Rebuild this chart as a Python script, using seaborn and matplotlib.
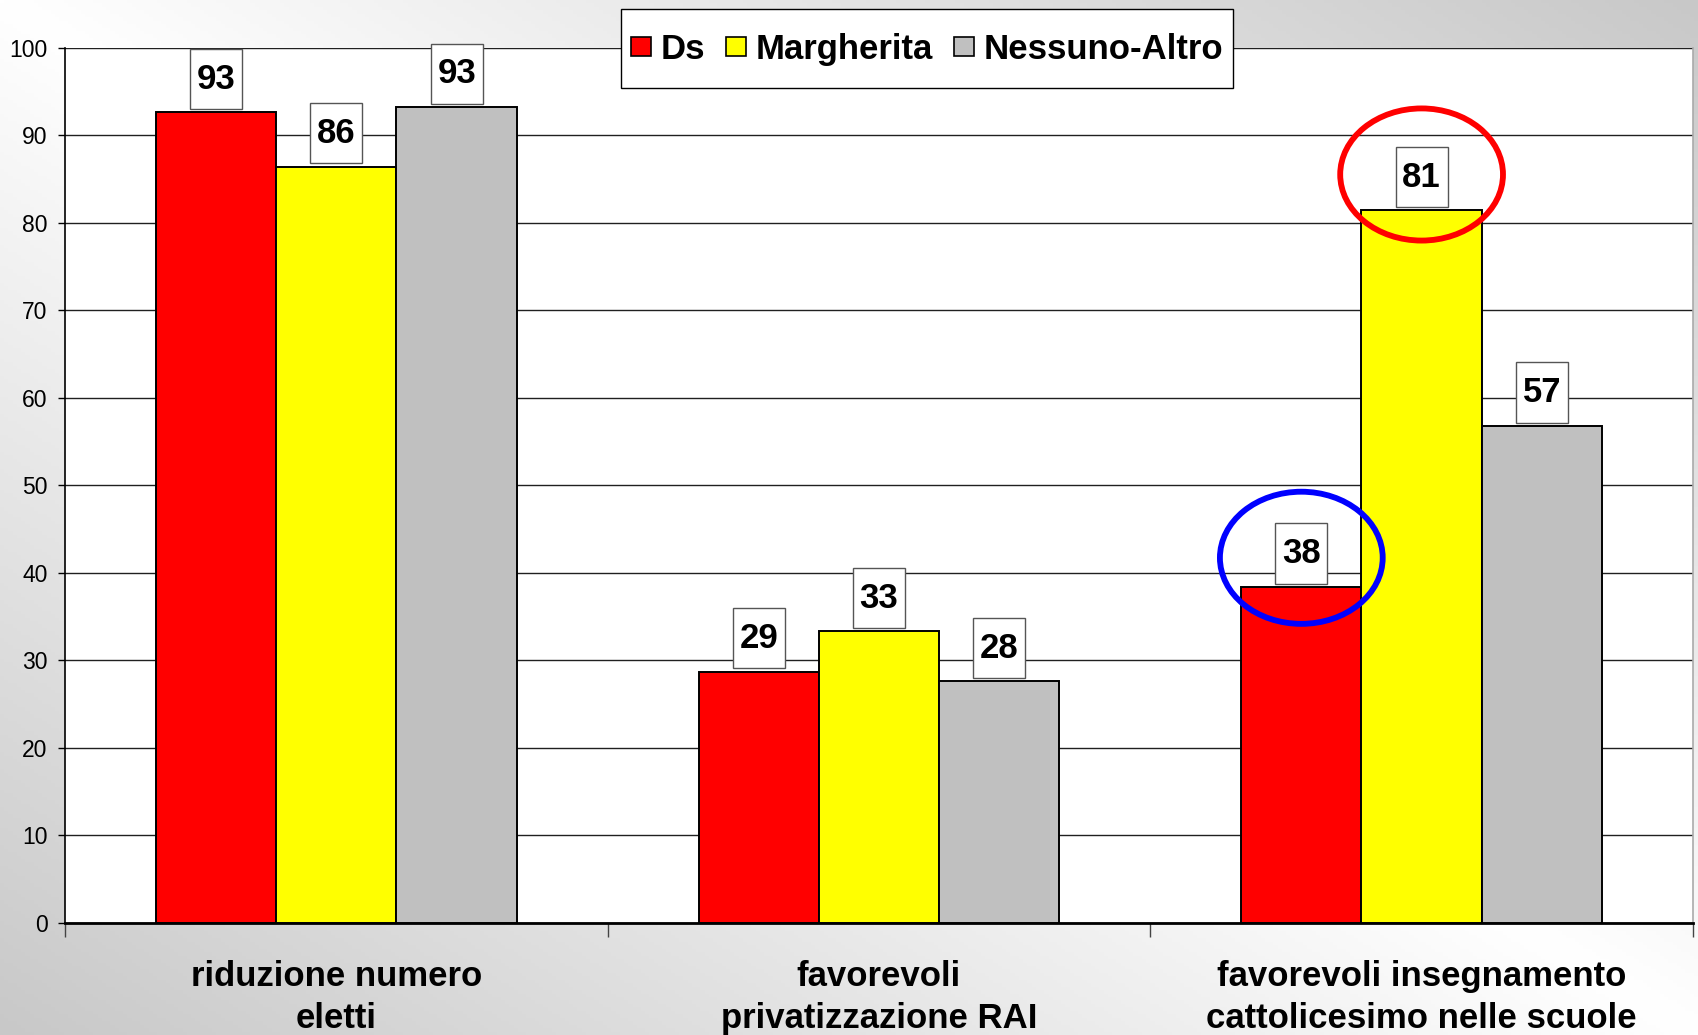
import numpy as np
import pandas as pd
import matplotlib
matplotlib.use("Agg")
import matplotlib.pyplot as plt
from matplotlib.patches import Patch, Ellipse, Rectangle
from matplotlib.path import Path
from matplotlib.legend_handler import HandlerPatch
import seaborn as sns

categories = ["riduzione numero\neletti",
              "favorevoli\nprivatizzazione RAI",
              "favorevoli insegnamento\ncattolicesimo nelle scuole"]
series = ["Ds", "Margherita", "Nessuno-Altro"]
ds_values = [92.6, 28.7, 38.4]
margherita_values = [86.4, 33.3, 81.4]
nessuno_values = [93.2, 27.6, 56.8]
colors = {"Ds": "#FF0000", "Margherita": "#FFFF00", "Nessuno-Altro": "#C0C0C0"}
y_ticks = [0, 10, 20, 30, 40, 50, 60, 70, 80, 90, 100]

df = pd.DataFrame({
    "categoria": categories * 3,
    "serie": [s for s in series for _ in categories],
    "valore": ds_values + margherita_values + nessuno_values,
})

sns.set_theme(style="white")
plt.rcParams["font.family"] = ["Liberation Sans", "DejaVu Sans"]
plt.rcParams["text.color"] = "black"
plt.rcParams["xtick.color"] = "black"
plt.rcParams["ytick.color"] = "black"
plt.rcParams["axes.labelcolor"] = "black"

fig = plt.figure(figsize=(16.98, 10.35), dpi=100)

# background gradient
bg = fig.add_axes([0, 0, 1, 1], zorder=-10)
xx, yy = np.meshgrid(np.linspace(0, 1, 400), np.linspace(0, 1, 300))
grad = 1.0 - (55 / 255) * np.abs(xx - yy)
bg.imshow(np.dstack([grad, grad, grad]), aspect="auto", extent=[0, 1, 0, 1],
          origin="upper", vmin=0, vmax=1)
bg.set_axis_off()

ax = fig.add_axes([0.0383, 0.1085, 0.9587, 0.8455])
ax.set_facecolor("white")
sns.barplot(data=df, x="categoria", y="valore", hue="serie", order=categories,
            hue_order=series, palette=colors, width=0.665, edgecolor="black",
            linewidth=1.4, saturation=1, ax=ax, legend=False, zorder=3)

ax.set_ylim(0, 100)
ax.set_xlim(-0.5, len(categories) - 0.5)
ax.set_yticks(y_ticks)
ax.set_yticklabels([str(t) for t in y_ticks], fontsize=16.5)
ax.yaxis.grid(True, color="#202020", linewidth=1.0, zorder=0)
ax.set_axisbelow(True)
ax.tick_params(axis="y", left=True, length=5, width=1, color="black", pad=7.5)

ax.set_xticks(range(len(categories)))
ax.set_xticklabels(categories, fontsize=25, fontweight="bold", linespacing=1.35)
ax.set_xticks([i - 0.5 for i in range(len(categories) + 1)], minor=True)
ax.tick_params(axis="x", which="major", length=0, pad=27)
ax.tick_params(axis="x", which="minor", bottom=True, length=10, width=1, color="#444444")
ax.set_xlabel("")
ax.set_ylabel("")

for side in ["left", "bottom"]:
    ax.spines[side].set_color("black")
ax.spines["left"].set_linewidth(1.2)
ax.spines["bottom"].set_linewidth(2.0)
ax.spines["top"].set_visible(False)
ax.spines["right"].set_color("#aaaaaa")
ax.spines["right"].set_linewidth(1.2)


def label_box(x0, y0, width, height, mutation_size):
    hp = 0.19 * mutation_size
    vp = 0.39 * mutation_size
    x0, y0 = x0 - hp, y0 - vp
    x1, y1 = x0 + width + 2 * hp, y0 + height + 2 * vp
    return Path([(x0, y0), (x1, y0), (x1, y1), (x0, y1), (x0, y0)],
                [Path.MOVETO, Path.LINETO, Path.LINETO, Path.LINETO, Path.CLOSEPOLY])


# value labels
for cont in ax.containers:
    for bar in cont:
        h = bar.get_height()
        cx = bar.get_x() + bar.get_width() / 2
        ax.annotate(f"{h:.0f}", xy=(cx, h), xytext=(0, 12), textcoords="offset points",
                    ha="center", va="bottom", fontsize=25, fontweight="bold", zorder=6,
                    bbox=dict(boxstyle=label_box, facecolor="white",
                              edgecolor="#555555", linewidth=1.0))

# highlight ellipses around group 3 Ds and Margherita
ds_bar = ax.containers[0][2]
mg_bar = ax.containers[1][2]
for bar, col, dy in [(mg_bar, "#FF0000", 4.1), (ds_bar, "#0000FF", 3.3)]:
    cx = bar.get_x() + bar.get_width() / 2
    ax.add_patch(Ellipse((cx, bar.get_height() + dy), 0.30, 15.1, fill=False,
                         edgecolor=col, linewidth=4.2, zorder=7, clip_on=False))


def square_handle(legend, orig_handle, xdescent, ydescent, width, height, fontsize):
    s = 0.56 * fontsize
    return Rectangle((-xdescent + (width - s) / 2, 0.36 * fontsize - s / 2), s, s)


handles = [Patch(facecolor=colors[s], edgecolor="black", linewidth=1.2) for s in series]
leg = ax.legend(handles, series, loc="center", bbox_to_anchor=(0.546, 0.9534),
                bbox_transform=fig.transFigure, ncol=3, frameon=True, fancybox=False,
                edgecolor="black", facecolor="white", framealpha=1,
                prop={"size": 25, "weight": "bold"}, handlelength=0.56, handleheight=2.2,
                handletextpad=0.28, columnspacing=0.62, borderpad=0.3, borderaxespad=0,
                handler_map={Patch: HandlerPatch(patch_func=square_handle)})
leg.get_frame().set_linewidth(1.0)
leg.set_zorder(10)

fig.savefig("out.png", dpi=100)
